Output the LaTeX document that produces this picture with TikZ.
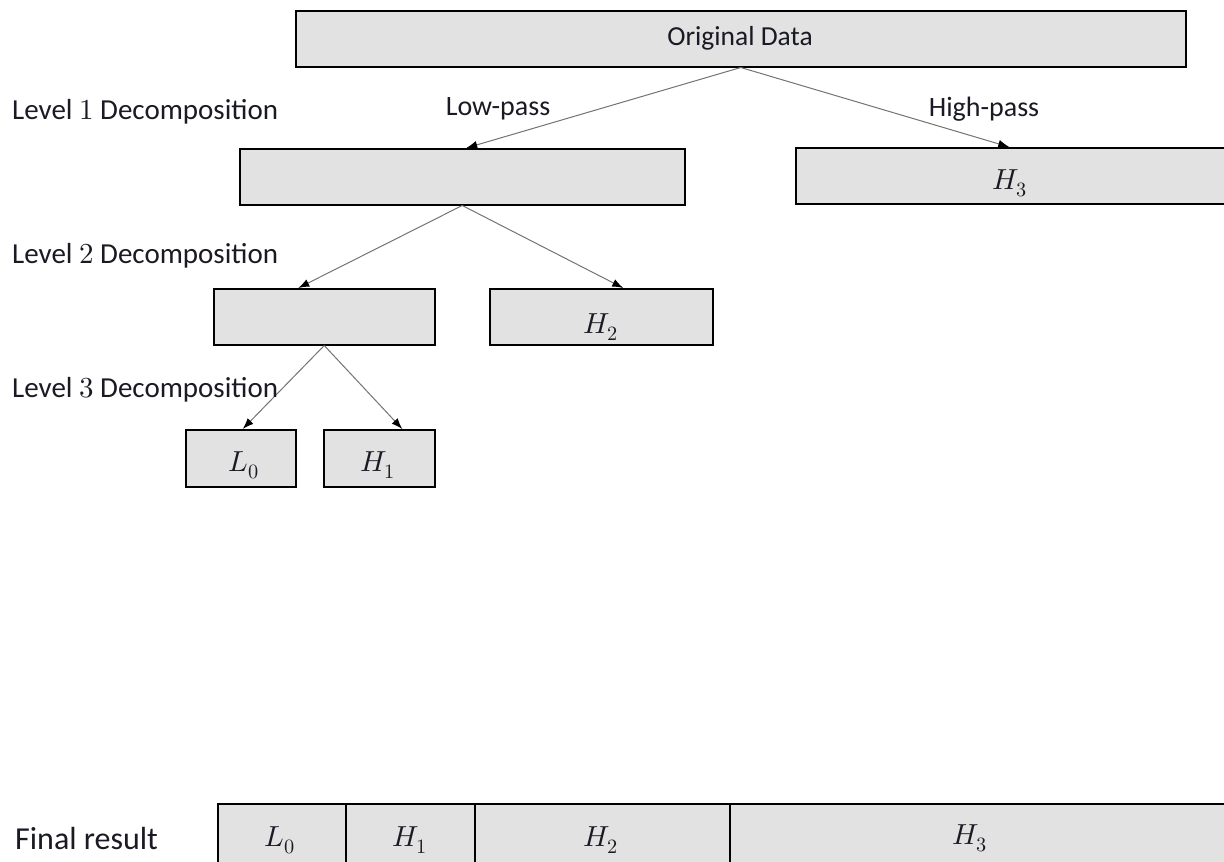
\documentclass[tikz,border=0pt]{standalone}
\usepackage{fontspec}
\setmainfont{Carlito}
\usepackage{unicode-math}
\setmathfont{Latin Modern Math}
\usetikzlibrary{arrows.meta}

\definecolor{boxfill}{RGB}{226,226,226}
\definecolor{inktext}{RGB}{26,26,36}

\tikzset{
  band/.style={draw=black, line width=1.5pt, fill=boxfill, inner sep=0pt,
               anchor=north west},
  lab/.style={inner sep=0pt, text=inktext, font=\fontsize{29}{33}\selectfont},
  caption/.style={inner sep=0pt, text=inktext, font=\fontsize{28}{32}\selectfont},
  branch/.style={draw=black!55, line width=1pt,
                 -{Latex[length=11pt,width=8pt,black]}}
}

\begin{document}
\begin{tikzpicture}[x=1pt,y=-1pt]
\useasboundingbox (0,0) rectangle (1224,862);
\clip (0,0) rectangle (1224,862);

% decomposition tree
\node[band, minimum width=890pt, minimum height=56pt] (orig) at (295,10) {};
\node[caption, font=\fontsize{27.5}{32}\selectfont] (origt) at (740,38) {Original Data};

\node[band, minimum width=445pt, minimum height=56pt] (l1) at (239,148) {};
\node[band, minimum width=445pt, minimum height=56pt] (h3) at (795,147) {};
\node[lab] (h3t) at (1010,183) {$H_3$};

\node[band, minimum width=221pt, minimum height=56pt] (l2) at (213,288) {};
\node[band, minimum width=223pt, minimum height=56pt] (h2) at (489,288) {};
\node[lab] (h2t) at (601,327) {$H_2$};

\node[band, minimum width=110pt, minimum height=57pt] (l0) at (185,429) {};
\node[band, minimum width=111pt, minimum height=57pt] (h1) at (323,429) {};
\node[lab] (l0t) at (244,465) {$L_0$};
\node[lab] (h1t) at (378,465) {$H_1$};

% filter branches
\draw[branch] (orig.south) -- ([xshift=4pt]l1.north);
\draw[branch] (orig.south) -- ([xshift=-9pt]h3.north);
\draw[branch] (l1.south) -- ([xshift=-26pt]l2.north);
\draw[branch] (l1.south) -- ([xshift=22pt]h2.north);
\draw[branch] (l2.south) -- ([xshift=2pt]l0.north);
\draw[branch] (l2.south) -- ([xshift=23pt]h1.north);

\node[caption] (lp) at (498,109) {Low-pass};
\node[caption] (hp) at (984,109) {High-pass};

% level captions
\node[caption, anchor=west, font=\fontsize{29}{33}\selectfont] (lv1) at (12,112) {Level $1$ Decomposition};
\node[caption, anchor=west, font=\fontsize{29}{33}\selectfont] (lv2) at (12,256) {Level $2$ Decomposition};
\node[caption, anchor=west, font=\fontsize{29}{33}\selectfont] (lv3) at (12,390) {Level $3$ Decomposition};

% final coefficient layout, running off the lower and right edges
\node[caption, anchor=west, font=\fontsize{32}{36}\selectfont] (fin) at (15,838) {Final result};
\node[band, minimum width=128pt, minimum height=100pt] (f0) at (217,803) {};
\node[band, minimum width=129pt, minimum height=100pt] (f1) at (345,803) {};
\node[band, minimum width=255pt, minimum height=100pt] (f2) at (474,803) {};
\node[band, minimum width=515pt, minimum height=100pt] (f3) at (729,803) {};
\node[lab] (f0t) at (280,840) {$L_0$};
\node[lab] (f1t) at (410,840) {$H_1$};
\node[lab] (f2t) at (601,840) {$H_2$};
\node[lab] (f3t) at (970,838) {$H_3$};
\end{tikzpicture}
\end{document}
